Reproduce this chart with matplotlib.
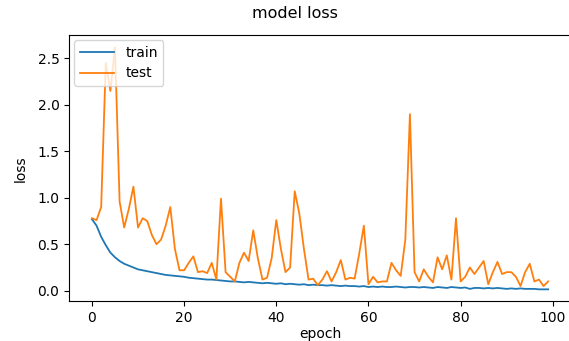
# courbes de perte (train / test) d'un modèle sur 100 epochs

import numpy as np
import matplotlib.pyplot as plt

train_loss = [
	0.77, 0.70, 0.58, 0.49, 0.41, 0.36, 0.32, 0.29, 0.27, 0.25,
	0.23, 0.22, 0.21, 0.20, 0.19, 0.18, 0.17, 0.165, 0.16, 0.155,
	0.15, 0.14, 0.135, 0.13, 0.125, 0.12, 0.12, 0.115, 0.11, 0.105,
	0.10, 0.10, 0.095, 0.09, 0.095, 0.09, 0.085, 0.08, 0.085, 0.08,
	0.075, 0.08, 0.07, 0.075, 0.07, 0.065, 0.07, 0.06, 0.065, 0.06,
	0.06, 0.055, 0.06, 0.055, 0.05, 0.055, 0.05, 0.05, 0.045, 0.05,
	0.04, 0.045, 0.04, 0.045, 0.04, 0.04, 0.045, 0.04, 0.035, 0.04,
	0.04, 0.035, 0.04, 0.035, 0.03, 0.04, 0.035, 0.03, 0.04, 0.035,
	0.03, 0.035, 0.02, 0.03, 0.03, 0.025, 0.03, 0.025, 0.03, 0.025,
	0.02, 0.025, 0.02, 0.025, 0.02, 0.02, 0.02, 0.015, 0.015, 0.015,
]

test_loss = [
	0.78, 0.76, 0.90, 2.45, 2.15, 2.62, 0.96, 0.68, 0.88, 1.12,
	0.68, 0.78, 0.75, 0.60, 0.50, 0.55, 0.70, 0.90, 0.45, 0.22,
	0.22, 0.30, 0.37, 0.20, 0.21, 0.19, 0.30, 0.12, 0.99, 0.20,
	0.15, 0.10, 0.30, 0.41, 0.32, 0.65, 0.35, 0.12, 0.14, 0.35,
	0.76, 0.45, 0.20, 0.25, 1.07, 0.83, 0.45, 0.12, 0.13, 0.06,
	0.12, 0.21, 0.10, 0.20, 0.33, 0.12, 0.14, 0.13, 0.40, 0.70,
	0.07, 0.15, 0.09, 0.10, 0.10, 0.30, 0.22, 0.16, 0.55, 1.90,
	0.20, 0.10, 0.23, 0.15, 0.09, 0.36, 0.23, 0.38, 0.12, 0.78,
	0.10, 0.15, 0.25, 0.18, 0.25, 0.32, 0.07, 0.20, 0.31, 0.18,
	0.20, 0.20, 0.15, 0.05, 0.20, 0.29, 0.10, 0.12, 0.05, 0.10,
]

epochs = np.arange(len(train_loss))

if __name__ == '__main__':
	fig = plt.figure(figsize=(5.69, 3.41), dpi=100)
	ax = fig.add_axes([0.1215, 0.116, 0.882, 0.781])

	ax.plot(epochs, train_loss, color='#1f77b4', lw=1.3, label='train')
	ax.plot(epochs, test_loss, color='#ff7f0e', lw=1.3, label='test')

	# le titre est un peu décalé à gauche sur l'original
	ax.set_title('model loss', fontsize=11.5, pad=12, x=0.449)
	ax.set_xlabel('epoch', fontsize=10, labelpad=1)
	ax.set_ylabel('loss', fontsize=10, labelpad=7)
	ax.tick_params(labelsize=10)
	ax.legend(loc='upper left', fontsize=10, handlelength=2.5, borderaxespad=0.35)

	fig.savefig('out.png', dpi=100)
